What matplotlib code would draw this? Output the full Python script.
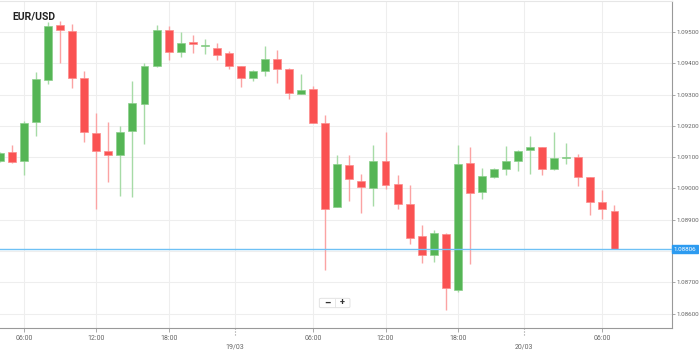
import numpy as np
import matplotlib.pyplot as plt
from matplotlib.patches import FancyBboxPatch
import matplotlib.transforms as mtransforms

plt.rcParams['font.family'] = ['Roboto', 'DejaVu Sans']

# hourly candles, index 0 = 16/03 06:00 (weekend hours skipped)
hours = np.arange(-2, 50)
opens = [1.09089, 1.09116, 1.09087, 1.09214, 1.09347, 1.09524, 1.09503, 1.09352, 1.09177, 1.09119,
         1.09108, 1.09184, 1.09271, 1.09391, 1.09505, 1.09436, 1.09467, 1.09454, 1.09449, 1.09434,
         1.09392, 1.09352, 1.09376, 1.09415, 1.09382, 1.09302, 1.09317, 1.09210, 1.08941, 1.09075,
         1.09025, 1.09002, 1.09089, 1.09014, 1.08949, 1.08848, 1.08786, 1.08855, 1.08677, 1.09081,
         1.08988, 1.09038, 1.09063, 1.09089, 1.09123, 1.09131, 1.09063, 1.09096, 1.09101, 1.09038,
         1.08957, 1.08929]
highs = [1.09116, 1.09139, 1.09217, 1.09372, 1.09532, 1.09535, 1.09526, 1.09376, 1.09242, 1.09211,
         1.09200, 1.09344, 1.09402, 1.09522, 1.09518, 1.09500, 1.09492, 1.09478, 1.09465, 1.09440,
         1.09393, 1.09378, 1.09455, 1.09442, 1.09384, 1.09367, 1.09328, 1.09234, 1.09108, 1.09107,
         1.09046, 1.09139, 1.09181, 1.09044, 1.09010, 1.08883, 1.08867, 1.08858, 1.09139, 1.09132,
         1.09065, 1.09065, 1.09136, 1.09124, 1.09168, 1.09134, 1.09179, 1.09145, 1.09111, 1.09038,
         1.08995, 1.08948]
lows = [1.09086, 1.09080, 1.09042, 1.09168, 1.09335, 1.09402, 1.09321, 1.09149, 1.08933, 1.09021,
        1.08977, 1.08974, 1.09141, 1.09387, 1.09411, 1.09420, 1.09432, 1.09431, 1.09409, 1.09383,
        1.09324, 1.09342, 1.09361, 1.09336, 1.09287, 1.09301, 1.09208, 1.08738, 1.08940, 1.08960,
        1.08921, 1.08944, 1.08997, 1.08934, 1.08823, 1.08761, 1.08766, 1.08610, 1.08670, 1.08759,
        1.08966, 1.09033, 1.09042, 1.09057, 1.09045, 1.09043, 1.09060, 1.09077, 1.09009, 1.08916,
        1.08904, 1.08806]
closes = [1.09114, 1.09083, 1.09210, 1.09351, 1.09520, 1.09505, 1.09352, 1.09179, 1.09120, 1.09106,
          1.09179, 1.09272, 1.09391, 1.09505, 1.09437, 1.09466, 1.09462, 1.09458, 1.09427, 1.09392,
          1.09352, 1.09377, 1.09413, 1.09381, 1.09304, 1.09316, 1.09209, 1.08935, 1.09077, 1.09030,
          1.09004, 1.09089, 1.09012, 1.08949, 1.08843, 1.08786, 1.08857, 1.08681, 1.09079, 1.08986,
          1.09041, 1.09062, 1.09089, 1.09121, 1.09131, 1.09063, 1.09096, 1.09100, 1.09038, 1.08958,
          1.08933, 1.08806]
last_price = 1.08806

time_ticks = [0, 6, 12, 24, 30, 36, 48]
time_labels = ["06:00", "12:00", "18:00", "06:00", "12:00", "18:00", "06:00"]
date_ticks = [17.5, 41.5]
date_labels = ["19/03", "20/03"]
price_ticks = [1.086, 1.087, 1.088, 1.089, 1.090, 1.091, 1.092, 1.093, 1.094, 1.095]

green, red = "#55b555", "#fa5252"
green_wick, red_wick = "#a6dba6", "#fba3a3"

o = np.array(opens)
c = np.array(closes)
up = c >= o

fig = plt.figure(figsize=(6.99, 3.51), dpi=100)
ax = fig.add_axes([0, 0.0655, 0.961, 0.9315])

ax.vlines(hours, lows, highs, colors=np.where(up, green_wick, red_wick), lw=1, zorder=2)
body = np.maximum(np.abs(c - o), 0.00005)
ax.bar(hours, body, bottom=np.minimum(o, c), width=0.66,
       color=np.where(up, green, red), edgecolor=np.where(up, "#8ccf8c", "#fc8c8c"),
       linewidth=0.5, zorder=3)

ax.axhline(last_price, color="#6ec1f5", lw=1, zorder=4)

ax.set_xlim(-1.99, 53.75)
ax.set_ylim(1.08554, 1.09599)

ax.set_xticks(time_ticks)
ax.set_xticklabels(time_labels)
ax.set_xticks(date_ticks, minor=True)
ax.set_xticklabels(date_labels, minor=True)
ax.tick_params(axis="x", which="major", length=3, width=0.6, color="#999999",
               labelsize=5, labelcolor="#666666", pad=2)
ax.tick_params(axis="x", which="minor", length=0, labelsize=5, labelcolor="#666666", pad=11)

# the price tag hides the label nearest to the last price
ax.yaxis.tick_right()
ax.set_yticks(price_ticks)
ax.set_yticklabels(["" if abs(p - last_price) < 0.0003 else "%.5f" % p for p in price_ticks])
ax.tick_params(axis="y", length=2, width=0.6, color="#999999",
               labelsize=4.5, labelcolor="#666666", pad=1.5)

ax.grid(True, which="both", color="#eeeeee", lw=0.8, zorder=0)
ax.set_axisbelow(True)

ax.spines["left"].set_visible(False)
ax.spines["top"].set_color("#e6e6e6")
ax.spines["right"].set_color("#999999")
ax.spines["bottom"].set_color("#999999")
ax.spines["right"].set_linewidth(0.8)
ax.spines["bottom"].set_linewidth(0.8)

# dotted date markers under the axis
trans = mtransforms.blended_transform_factory(ax.transData, ax.transAxes)
ax.vlines(date_ticks, -0.022, 0, transform=trans, colors="#999999", lw=0.8,
          linestyles=":", clip_on=False)

# last price tag
ax.annotate("%.5f" % last_price, xy=(1, last_price), xycoords=("axes fraction", "data"),
            xytext=(1.5, 0), textcoords="offset points", ha="left", va="center",
            fontsize=4.5, color="white",
            bbox=dict(boxstyle="square,pad=0.25", fc="#2d9bf0", ec="#2d9bf0"))

fig.text(0.0172, 0.944, "EUR/USD", fontsize=7.5, fontweight="bold", color="#222222",
         ha="left", va="baseline")

# zoom buttons
fig.patches.append(FancyBboxPatch((0.4568, 0.1234), 0.0439, 0.0268, transform=fig.transFigure,
                                  boxstyle="round,pad=0,rounding_size=0.003",
                                  fc="white", ec="#dddddd", lw=0.6, zorder=5))
fig.add_artist(plt.Line2D([0.4788, 0.4788], [0.1254, 0.1482], transform=fig.transFigure,
                          color="#e3e3e3", lw=0.6, zorder=6))
fig.text(0.4678, 0.1368, "\u2013", fontsize=7, fontweight="bold", color="#333333",
         ha="center", va="center", zorder=6)
fig.text(0.4902, 0.1368, "+", fontsize=6.5, fontweight="bold", color="#333333",
         ha="center", va="center", zorder=6)

fig.savefig("out.png", dpi=100)
